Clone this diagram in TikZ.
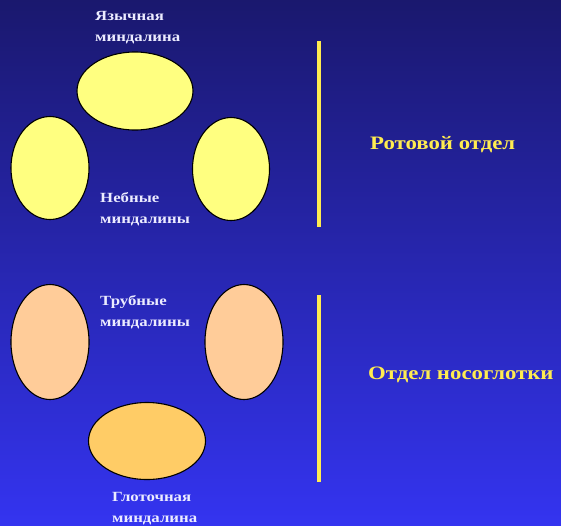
\documentclass[tikz,border=0pt]{standalone}
\usepackage{fontspec}
\setmainfont{Liberation Serif}
\newfontfamily\widefont[FakeStretch=1.2]{Liberation Serif}
\usetikzlibrary{positioning,shapes.geometric}
\definecolor{bgtop}{RGB}{26,24,110}
\definecolor{bgmid}{RGB}{36,36,192}
\definecolor{bgbot}{RGB}{52,52,240}
\definecolor{paleyellow}{RGB}{255,255,128}
\definecolor{peach}{RGB}{255,204,153}
\definecolor{amber}{RGB}{255,204,102}
\definecolor{labelwhite}{RGB}{236,236,255}
\definecolor{lineyellow}{RGB}{255,236,80}
\tikzset{
  tonsil/.style={ellipse, draw=black, line width=1.1pt, inner sep=0pt},
  namelbl/.style={anchor=north west, align=left, text=labelwhite,
    font=\widefont\bfseries\fontsize{14}{21.5}\selectfont, inner sep=0pt},
  partlbl/.style={anchor=west, text=lineyellow,
    font=\widefont\bfseries\fontsize{19}{22}\selectfont, inner sep=0pt},
  divider/.style={draw=lineyellow, line width=3.5pt}
}
\begin{document}
\begin{tikzpicture}[x=1pt,y=-1pt]
  \useasboundingbox (0,0) rectangle (561,525);
  \shade[top color=bgtop, middle color=bgmid, bottom color=bgbot] (0,0) rectangle (561,525);

  % Mouth part
  \node[tonsil, fill=paleyellow, minimum width=116pt, minimum height=78pt] (lingual) at (135,91) {};
  \node[tonsil, fill=paleyellow, minimum width=78pt, minimum height=103pt] (palL) at (50,168) {};
  \node[tonsil, fill=paleyellow, minimum width=77pt, minimum height=103pt] (palR) at (231,169) {};
  \node[namelbl] (lingualtxt) at (95,11) {Язычная\\миндалина};
  \node[namelbl] (paltxt) at (100,192) {Небные\\миндалины};
  \coordinate (mouthtop) at (319,41);
  \coordinate (mouthbot) at (319,227);
  \draw[divider] (mouthtop) -- (mouthbot);
  \node[partlbl] (mouth) at (370,145) {Ротовой отдел};

  % Nasopharynx part
  \node[tonsil, fill=peach, minimum width=78pt, minimum height=115pt] (tubL) at (50,342) {};
  \node[tonsil, fill=peach, minimum width=78pt, minimum height=115pt] (tubR) at (244,342) {};
  \node[tonsil, fill=amber, minimum width=117pt, minimum height=77pt] (pharyn) at (147,441) {};
  \node[namelbl] (tubtxt) at (100,295) {Трубные\\миндалины};
  \node[namelbl] (pharyntxt) at (112,492) {Глоточная\\миндалина};
  \coordinate (nasotop) at (319,295);
  \coordinate (nasobot) at (319,482);
  \draw[divider] (nasotop) -- (nasobot);
  \node[partlbl] (naso) at (368,375) {Отдел носоглотки};
\end{tikzpicture}
\end{document}
